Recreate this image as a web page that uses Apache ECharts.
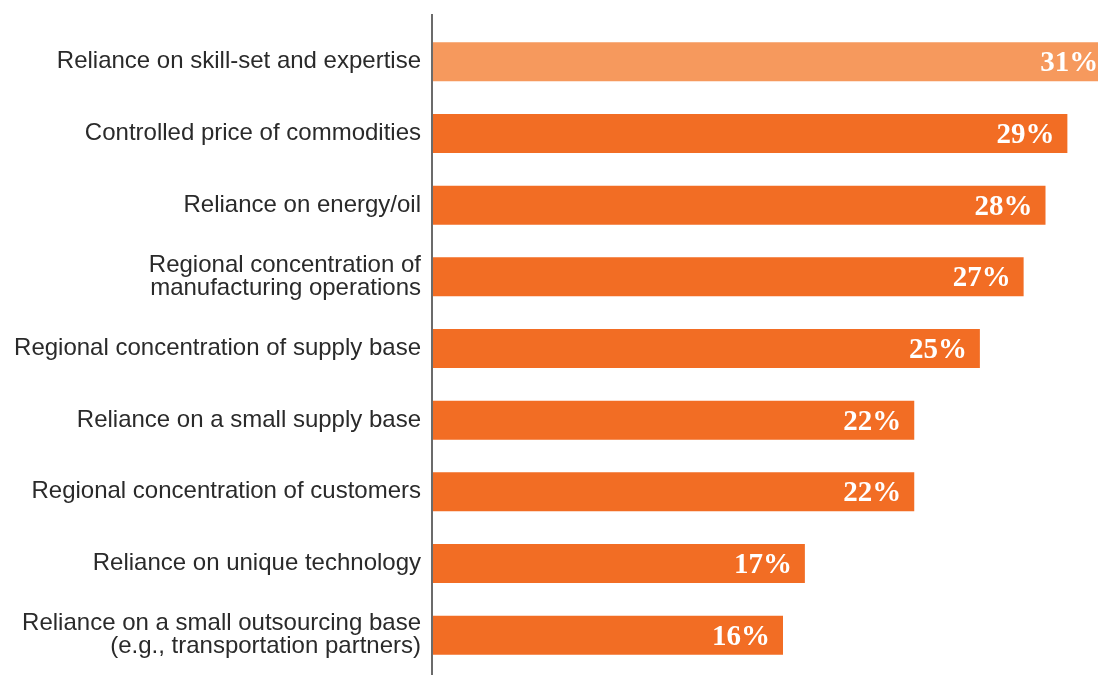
<!DOCTYPE html>
<html>
<head>
<meta charset="utf-8">
<script src="https://cdn.jsdelivr.net/npm/echarts@6/dist/echarts.min.js"></script>
<style>
html,body{margin:0;padding:0;background:#fff;}
#main{width:1098px;height:675px;}
</style>
</head>
<body>
<div id="main"></div>
<script>
const categories = [
  "Reliance on skill-set and expertise",
  "Controlled price of commodities",
  "Reliance on energy/oil",
  "Regional concentration of\nmanufacturing operations",
  "Regional concentration of supply base",
  "Reliance on a small supply base",
  "Regional concentration of customers",
  "Reliance on unique technology",
  "Reliance on a small outsourcing base\n(e.g., transportation partners)"
];
const values = [31, 29, 28, 27, 25, 22, 22, 17, 16];
const highlightIndex = 0;

const chart = echarts.init(document.getElementById('main'), null, {renderer: 'canvas'});
chart.setOption({
  animation: false,
  backgroundColor: '#ffffff',
  grid: {left: 433, top: 26, right: 0, height: 645, containLabel: false},
  xAxis: {
    type: 'value', min: 0, max: 30.4, show: false
  },
  yAxis: {
    type: 'category',
    inverse: true,
    data: categories,
    axisLine: {show: false},
    axisTick: {show: false},
    axisLabel: {
      margin: 12,
      color: '#2a2a2a',
      fontFamily: 'Liberation Sans, Arial, sans-serif',
      fontSize: 24,
      lineHeight: 23,
      padding: [5, 0, 0, 0],
      align: 'right'
    }
  },
  graphic: [{
    type: 'line',
    shape: {x1: 432, y1: 14, x2: 432, y2: 675},
    style: {stroke: '#6b6b6b', lineWidth: 2}
  }],
  series: [{
    type: 'bar',
    clip: false,
    barWidth: 39,
    data: values.map((v, i) => ({
      value: v,
      itemStyle: {color: i === highlightIndex ? '#F6995D' : '#F26D24'}
    })),
    label: {
      show: true,
      position: 'insideRight',
      distance: 13,
      offset: [0, 2],
      formatter: '{c}%',
      color: '#ffffff',
      fontFamily: 'Liberation Serif, Times New Roman, serif',
      fontWeight: 'bold',
      fontSize: 29
    }
  }]
});
</script>
</body>
</html>
